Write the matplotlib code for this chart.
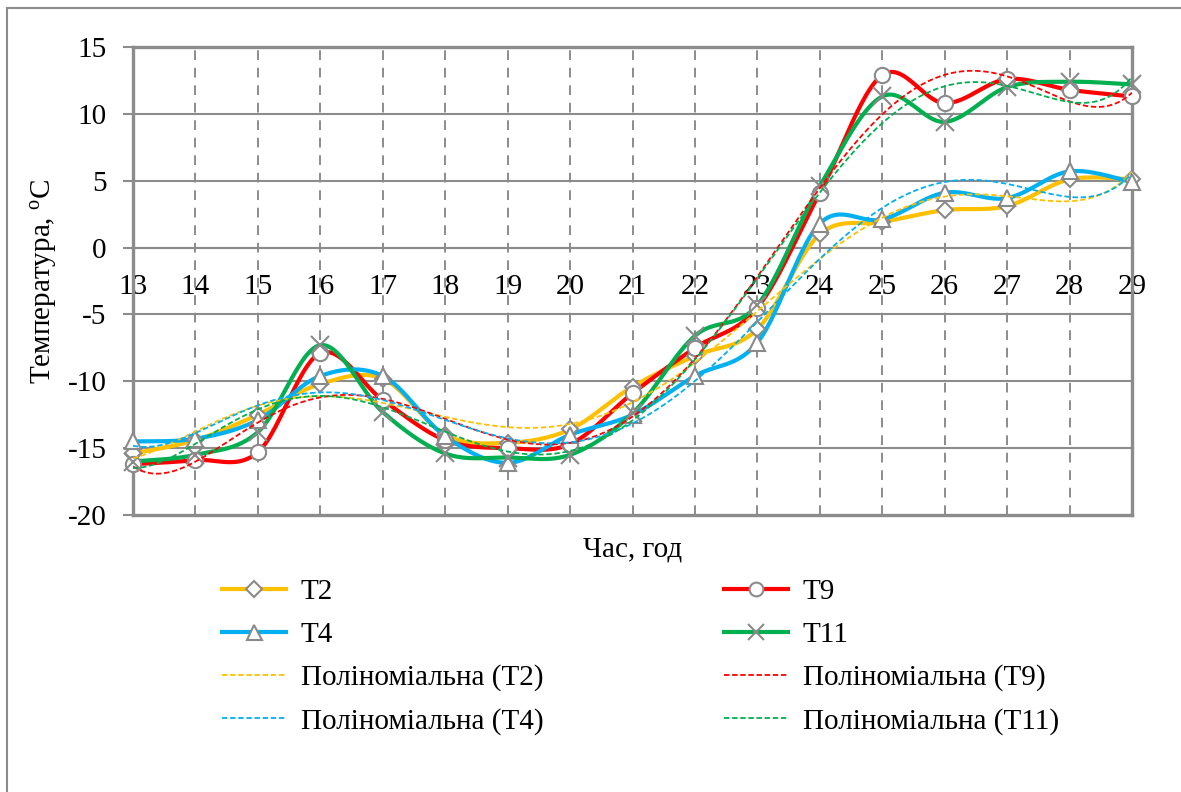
import numpy as np
import matplotlib
matplotlib.use("Agg")
import matplotlib.pyplot as plt
from matplotlib.lines import Line2D

plt.rcParams['font.family'] = ['Liberation Serif', 'DejaVu Serif']
plt.rcParams['mathtext.fontset'] = 'custom'
plt.rcParams['mathtext.rm'] = 'Liberation Serif'
plt.rcParams['mathtext.it'] = 'Liberation Serif:italic'
plt.rcParams['axes.unicode_minus'] = False

hours = [13, 14, 15, 16, 17, 18, 19, 20, 21, 22, 23, 24, 25, 26, 27, 28, 29]
T2 = [-15.4, -14.4, -12.5, -10.2, -9.8, -14.0, -14.6, -13.6, -10.4, -8.1, -6.1, 1.0, 1.9, 2.8, 3.1, 5.1, 5.1]
T9 = [-16.2, -15.9, -15.3, -7.9, -11.4, -14.4, -15.0, -14.7, -10.9, -7.5, -4.5, 4.1, 12.9, 10.8, 12.6, 11.8, 11.3]
T4 = [-14.5, -14.3, -12.9, -9.6, -9.6, -14.1, -16.1, -14.0, -12.5, -9.6, -7.1, 1.8, 2.1, 4.1, 3.7, 5.7, 4.9]
T11 = [-16.0, -15.5, -13.8, -7.3, -12.3, -15.4, -15.7, -15.5, -12.4, -6.6, -4.3, 4.6, 11.3, 9.4, 12.0, 12.4, 12.2]

names = ['T2', 'T9', 'T4', 'T11']
series = [T2, T9, T4, T11]
colors = ['#FFC000', '#FF0000', '#00B0F0', '#00B050']
markers = ['D', 'o', '^', 'x']
msizes = [8.5, 11, 12, 13]
trend_label = 'Поліноміальна'
poly_degree = 6


def smooth(x, y, n=30):
    """Excel-like smoothed line (Catmull-Rom Bezier) through the points."""
    P = np.column_stack([x, y]).astype(float)
    out = []
    m = len(P)
    t = np.linspace(0, 1, n)[:, None]
    for i in range(m - 1):
        p0 = P[i - 1] if i > 0 else P[i]
        p1 = P[i]
        p2 = P[i + 1]
        p3 = P[i + 2] if i + 2 < m else P[i + 1]
        c1 = p1 + (p2 - p0) / 6.0
        c2 = p2 - (p3 - p1) / 6.0
        seg = ((1 - t) ** 3) * p1 + 3 * ((1 - t) ** 2) * t * c1 + 3 * (1 - t) * t ** 2 * c2 + t ** 3 * p2
        out.append(seg if i == 0 else seg[1:])
    out = np.vstack(out)
    return out[:, 0], out[:, 1]


W, H = 1181, 792
fig = plt.figure(figsize=(W / 100, H / 100), dpi=100)
ax = fig.add_axes([133 / W, 1 - 515 / H, (1132 - 133) / W, (515 - 47) / H])

grid_c = '#8C8C8C'
ax.set_xlim(13, 29)
ax.set_ylim(-20, 15)
ax.set_xticks(hours)
ax.set_xticklabels([str(h) for h in hours])
ax.set_yticks(np.arange(-20, 16, 5))

for yv in np.arange(-15, 15, 5):
    ax.axhline(yv, color=grid_c, lw=1.5, zorder=1)
for xv in hours[1:-1]:
    ax.axvline(xv, color=grid_c, lw=1.4, ls=(0, (5, 4)), zorder=1)

for sp in ['top', 'left', 'right']:
    ax.spines[sp].set_color(grid_c)
    ax.spines[sp].set_linewidth(2.4)
ax.spines['bottom'].set_position(('data', 0))
ax.spines['bottom'].set_color(grid_c)
ax.spines['bottom'].set_linewidth(1.5)
ax.plot([0, 1], [0, 0], transform=ax.transAxes, color=grid_c, lw=2.4, clip_on=False, zorder=3)

ax.tick_params(axis='x', length=0, pad=19, labelsize=21)
ax.tick_params(axis='y', length=7, width=1.5, color=grid_c, pad=12, labelsize=21)

xs = np.array(hours, dtype=float)
handles = {}
for name, ys, c, mk, ms in zip(names, series, colors, markers, msizes):
    sx, sy = smooth(xs, ys)
    ax.plot(sx, sy, color=c, lw=3.0, zorder=4, solid_capstyle='round')
    ax.plot(xs, ys, ls='none', marker=mk, ms=ms, mfc='white', mec='#8A8A8A', mew=1.5,
            zorder=5, clip_on=False)
    handles[name] = Line2D([], [], color=c, lw=3.0, marker=mk, ms=ms * 0.9, mfc='white',
                           mec='#8A8A8A', mew=1.5)

xf = np.linspace(13, 29, 400)
thandles = {}
for name, ys, c in zip(names, series, colors):
    p = np.polynomial.Polynomial.fit(xs, ys, poly_degree)
    ax.plot(xf, p(xf), color=c, lw=1.3, ls=(0, (3, 1.5)), zorder=6)
    thandles[name] = Line2D([], [], color=c, lw=1.3, ls=(0, (3, 1.5)))

ax.set_xlabel('Час, год', fontsize=21, labelpad=0)
ax.xaxis.set_label_coords(0.5, -0.045)
ax.set_ylabel('Температура, $^{\\mathrm{o}}$C', fontsize=21)
ax.yaxis.set_label_coords(-0.074, 0.5)

col1_h = [handles['T2'], handles['T4'], thandles['T2'], thandles['T4']]
col1_l = ['T2', 'T4', f'{trend_label} (T2)', f'{trend_label} (T4)']
col2_h = [handles['T9'], handles['T11'], thandles['T9'], thandles['T11']]
col2_l = ['T9', 'T11', f'{trend_label} (T9)', f'{trend_label} (T11)']
leg = fig.legend(col1_h + col2_h, col1_l + col2_l, ncol=2, frameon=False,
                 loc='upper left', bbox_to_anchor=(222 / W, 1 - 579 / H),
                 fontsize=21, handlelength=2.2, handletextpad=0.5,
                 columnspacing=6.2, labelspacing=0.56, borderpad=0, borderaxespad=0)

# outer chart border
fig.add_artist(plt.Rectangle((7 / W, -0.05), 1.2, 1 - 8 / H + 0.05, transform=fig.transFigure,
                             fill=False, edgecolor='#8C8C8C', lw=1.5))

fig.savefig('out.png', dpi=100)
